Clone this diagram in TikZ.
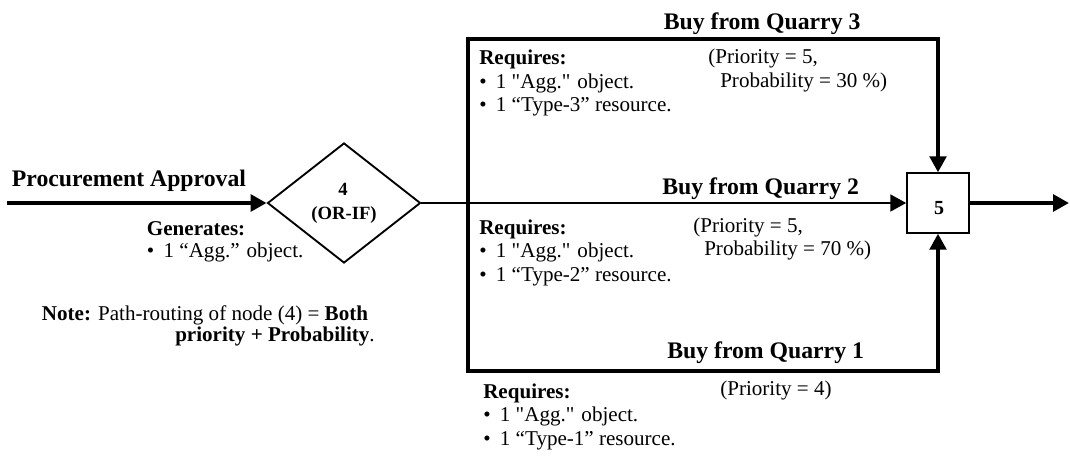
\documentclass[tikz,border=0pt]{standalone}
\usepackage{fontspec}
\setmainfont{Liberation Serif}
\usetikzlibrary{arrows.meta,shapes.geometric}
\newcommand\sqq{\XeTeXglyph\XeTeXcharglyph"22\relax}
\newcommand\bul{\makebox[12.5pt][l]{\textbullet}}
\tikzset{
  txt/.style={anchor=base west, inner sep=0pt, font=\fontsize{15.8}{18}\selectfont},
  txtb/.style={txt, font=\fontsize{15.8}{18}\selectfont\bfseries},
  ttl/.style={anchor=base west, inner sep=0pt, font=\fontsize{17.8}{21}\selectfont\bfseries},
  lbl/.style={anchor=base, inner sep=0pt, font=\fontsize{14}{16}\selectfont\bfseries},
  tip/.style={-{Triangle[length=12pt,width=12.5pt]}},
  bigarrow/.style={line width=3pt, tip},
  framearrow/.style={line width=2.6pt, tip},
  link/.style={line width=2.2pt},
  decision/.style={diamond, draw, line width=1.4pt, minimum width=114.75pt, minimum height=90pt, inner sep=0pt},
  junction/.style={rectangle, draw, line width=1.1pt, minimum width=46.5pt, minimum height=45pt, inner sep=0pt}
}
\begin{document}
\begin{tikzpicture}[x=0.75pt,y=-0.75pt]
\useasboundingbox (0,0) rectangle (1070,456);
% shapes
\node[decision] (dia) at (344,203) {};
\node[junction] (box) at (938,203) {};
\coordinate (src) at (7,203);
\coordinate (j) at (468,203);
\coordinate (jt) at (468,39);
\coordinate (jb) at (468,371);
\coordinate (out) at (1069,203);
% connectors
\draw[bigarrow] (src) -- (dia.west);
\draw[link] (dia.east) -- (j);
\draw[framearrow] (j) -- (jt) -| (box.north);
\draw[framearrow] (j) -- (jb) -| (box.south);
\draw[link, tip] (j) -- (box.west);
\draw[bigarrow] (box.east) -- (out);
% node labels
\node[lbl] (d4) at (343,195.5) {4};
\node[lbl] (dor) at (344,219.5) {(OR-IF)};
\node[lbl, font=\fontsize{15}{17}\selectfont\bfseries] (b5) at (939,214) {5};
% left texts
\node[ttl] (pa) at (11.7,186.7) {Procurement Approval};
\node[txtb] (gen) at (146.7,235) {Generates:};
\node[txt] (gen1) at (146.7,257) {\bul 1 “Agg.” object.};
\node[txt] (note1) at (41.7,320) {\textbf{Note:} Path-routing of node (4) = \textbf{Both}};
\node[txt] (note2) at (175,341.7) {\textbf{priority + Probability}.};
% quarry 3
\node[ttl] (q3) at (663.5,30) {Buy from Quarry 3};
\node[txtb] (r3) at (479,65) {Requires:};
\node[txt] (r3a) at (479,88.5) {\bul 1 \sqq Agg.\sqq{} object.};
\node[txt] (r3b) at (479,112) {\bul 1 “Type-3” resource.};
\node[txt] (p3a) at (708,64) {(Priority = 5,};
\node[txt] (p3b) at (720,87.5) {Probability = 30 \%)};
% quarry 2
\node[ttl] (q2) at (662,195) {Buy from Quarry 2};
\node[txtb] (r2) at (479,234) {Requires:};
\node[txt] (r2a) at (479,257.5) {\bul 1 \sqq Agg.\sqq{} object.};
\node[txt] (r2b) at (479,281) {\bul 1 “Type-2” resource.};
\node[txt] (p2a) at (693,232) {(Priority = 5,};
\node[txt] (p2b) at (704,255.5) {Probability = 70 \%)};
% quarry 1
\node[ttl] (q1) at (667,358) {Buy from Quarry 1};
\node[txtb] (r1) at (483,398) {Requires:};
\node[txt] (r1a) at (483,421.5) {\bul 1 \sqq Agg.\sqq{} object.};
\node[txt] (r1b) at (483,445) {\bul 1 “Type-1” resource.};
\node[txt] (p1) at (720,395) {(Priority = 4)};
\end{tikzpicture}
\end{document}
